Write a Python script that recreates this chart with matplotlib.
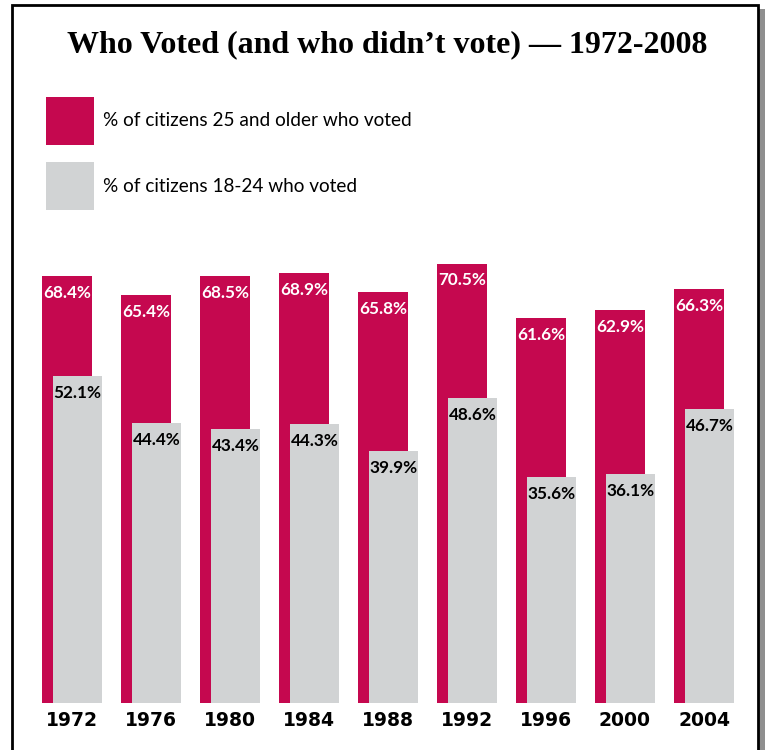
import matplotlib
matplotlib.use("Agg")
import matplotlib.pyplot as plt
from matplotlib.patches import Rectangle

years = ["1972", "1976", "1980", "1984", "1988", "1992", "1996", "2000", "2004"]
older = [68.4, 65.4, 68.5, 68.9, 65.8, 70.5, 61.6, 62.9, 66.3]
young = [52.1, 44.4, 43.4, 44.3, 39.9, 48.6, 35.6, 36.1, 46.7]
legend_labels = ["% of citizens 25 and older who voted", "% of citizens 18-24 who voted"]
title = "Who Voted (and who didn\u2019t vote) \u2014 1972-2008"

MAG = "#C5084F"
GRAY = "#D1D3D4"

W, H = 765, 750
fig = plt.figure(figsize=(W / 100, H / 100), dpi=100)
fig.patch.set_facecolor("white")

def fx(p):
    return p / W

def fy(p):
    return 1 - p / H

# border + shadow
fig.patches.append(Rectangle((fx(758), fy(760)), fx(7), fy(9) - fy(760), transform=fig.transFigure,
                             facecolor="#8f8f8f", edgecolor="none", zorder=-3))
fig.patches.append(Rectangle((fx(12), fy(760)), fx(746), fy(5) - fy(760), transform=fig.transFigure,
                             facecolor="white", edgecolor="black", linewidth=2.0, zorder=-2))

step = 79.0
xc0 = 72.0
ax_left_px, ax_right_px = 0, 765
ax_top_px, ax_bot_px = 250, 703
ax = fig.add_axes([fx(ax_left_px), fy(ax_bot_px), fx(ax_right_px - ax_left_px), (ax_bot_px - ax_top_px) / H])
ax.set_facecolor("none")
ppu = 6.12
zero_px = 695
ylo = (zero_px - ax_bot_px) / ppu
yhi = (zero_px - ax_top_px) / ppu
ax.set_ylim(ylo, yhi)
ax.set_xlim((ax_left_px - xc0) / step, (ax_right_px - xc0) / step)

x = list(range(len(years)))
mag_off = (67 - xc0) / step
gray_off = (77.5 - xc0) / step
mag_w = 50 / step
gray_w = 49 / step

ax.bar([i + mag_off for i in x], [v - ylo for v in older], bottom=ylo, width=mag_w, color=MAG, zorder=2)
ax.bar([i + gray_off for i in x], [v - ylo for v in young], bottom=ylo, width=gray_w, color=GRAY, zorder=3)

for i, (a, b) in enumerate(zip(older, young)):
    ax.annotate(f"{a:.1f}%", (i + mag_off, a), xytext=(0, -12.2), textcoords="offset points",
                ha="center", va="center", color="white", fontsize=12.3, fontweight="bold",
                family="Lato", zorder=4)
    ax.annotate(f"{b:.1f}%", (i + gray_off, b), xytext=(0, -12.2), textcoords="offset points",
                ha="center", va="center", color="black", fontsize=12.3, fontweight="bold",
                family="Lato", zorder=4)

ax.set_xticks(x)
ax.set_xticklabels(years, fontsize=13.5, fontweight="bold", family="DejaVu Sans")
ax.tick_params(axis="x", length=0, pad=6)
ax.set_yticks([])
for s in ax.spines.values():
    s.set_visible(False)

# title
fig.text(fx(387), fy(45), title, ha="center", va="center", fontsize=23, fontweight="bold",
         family="Liberation Serif")

# legend
for k, (lab, col) in enumerate(zip(legend_labels, [MAG, GRAY])):
    top = 97 + k * 65
    fig.patches.append(Rectangle((fx(46), fy(top + 48)), fx(48), 48 / H, transform=fig.transFigure,
                                 facecolor=col, edgecolor="none", zorder=2))
    fig.text(fx(103), fy(top + 24), lab, ha="left", va="center", fontsize=13.7, family="Lato")

fig.savefig("out.png", dpi=100)
